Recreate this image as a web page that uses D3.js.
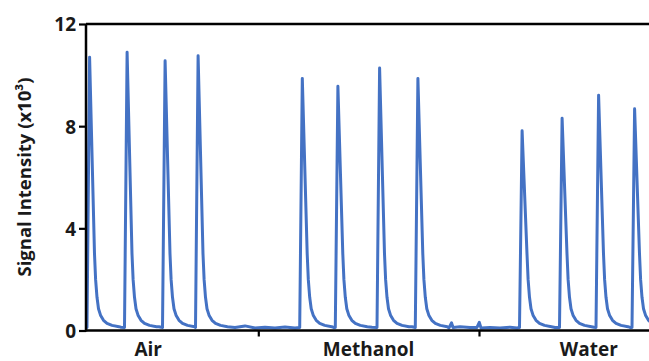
<!DOCTYPE html>
<html>
<head>
<meta charset="utf-8">
<script src="https://cdn.jsdelivr.net/npm/d3@7"></script>
<style>
  html, body { margin: 0; padding: 0; background: #ffffff; }
  svg { display: block; }
  text { font-family: "Open Sans", Lato, sans-serif; font-weight: bold; fill: #1a1a1a; }
</style>
</head>
<body>
<svg id="chart" width="649" height="361"></svg>
<script>
// ---- data ----
const categories = ["Air", "Methanol", "Water"];
const categoryBounds = [0, 220.3, 441, 661];          // time boundaries of each exposure block
const yTicks = [0, 4, 8, 12];
// rising-edge time of each pulse and its peak intensity (x10^3)
const peakStart  = [49, 86.5, 124.5, 157.5, 261.7, 297.3, 339, 377.3, 481.5, 521.5, 558, 594];
const peakHeight = [10.70, 10.89, 10.56, 10.76, 9.87, 9.56, 10.28, 9.87, 7.82, 8.31, 9.21, 8.68];
// decay after each pulse: time since rise and intensity
const tailTime  = [7.5, 8.6, 10, 11.5, 13.5, 16.5, 20, 25, 32];
const tailValue = [3.0, 2.0, 1.3, 0.85, 0.6, 0.4, 0.28, 0.2, 0.15];
const topTime = 2.6;
// baseline between pulses
const baseTime  = [48, 83, 121, 197, 207, 217, 227, 237, 247, 257, 295.5, 334, 374, 411, 413.5, 415, 422, 432, 439, 441.3, 443, 452, 462, 472, 479, 517, 556, 592];
const baseValue = [0.12, 0.13, 0.15, 0.12, 0.18, 0.1, 0.13, 0.1, 0.14, 0.1, 0.12, 0.13, 0.15, 0.1, 0.3, 0.12, 0.15, 0.12, 0.12, 0.32, 0.1, 0.12, 0.1, 0.13, 0.1, 0.12, 0.13, 0.12];

(function () {
// ---- build the trace ----
const pts = [];
peakStart.forEach((s, i) => {
  pts.push([s, 0.12]);
  pts.push([s + topTime, peakHeight[i]]);
  tailTime.forEach((dt, j) => pts.push([s + dt, tailValue[j]]));
});
baseTime.forEach((t, i) => {
  const inside = peakStart.some(s => t >= s && t <= s + tailTime[tailTime.length - 1]);
  if (!inside) pts.push([t, baseValue[i]]);
});
pts.sort((a, b) => a[0] - b[0]);

// ---- layout ----
const svg = d3.select("#chart");
const mLeft = 86, mRight = 649, mTop = 24, mBottom = 330.5;
const x = d3.scaleLinear().domain([0, 661]).range([38, 699]);
const y = d3.scaleLinear().domain([0, 12]).range([mBottom, mTop]);
const band = d3.scaleBand().domain(categories).range([x(categoryBounds[0]), x(categoryBounds[3])]);

svg.append("defs").append("clipPath").attr("id", "clip")
  .append("rect").attr("x", mLeft + 1).attr("y", 0).attr("width", mRight - mLeft).attr("height", mBottom + 2);

// trace
svg.append("path")
  .datum(pts)
  .attr("clip-path", "url(#clip)")
  .attr("fill", "none")
  .attr("stroke", "#4472C4")
  .attr("stroke-width", 3)
  .attr("stroke-linejoin", "round")
  .attr("stroke-linecap", "round")
  .attr("d", d3.line().x(d => x(d[0])).y(d => y(d[1])));

// top frame line
svg.append("line")
  .attr("x1", mLeft).attr("x2", mRight).attr("y1", mTop).attr("y2", mTop)
  .attr("stroke", "#000").attr("stroke-width", 2.5);

// y axis
const yAxis = svg.append("g")
  .attr("transform", `translate(${mLeft},0)`)
  .call(d3.axisLeft(y).tickValues(yTicks).tickSize(7).tickPadding(3).tickFormat(d3.format("d")));
yAxis.select(".domain").attr("stroke", "#000").attr("stroke-width", 2.5).attr("d", `M0,${mTop}V${mBottom + 1}`);
yAxis.selectAll(".tick line").attr("stroke", "#000").attr("stroke-width", 2.2);
yAxis.selectAll(".tick text").attr("dy", "0.36em").style("font-size", "19px").style("font-family", "'Open Sans'").style("font-weight", "bold").attr("fill", "#1a1a1a");

// x axis (ticks at block boundaries)
const xAxis = svg.append("g")
  .attr("transform", `translate(0,${mBottom})`)
  .call(d3.axisBottom(x).tickValues(categoryBounds.slice(1, 3)).tickSize(6).tickFormat(""));
xAxis.select(".domain").attr("stroke", "#000").attr("stroke-width", 2.5).attr("d", `M${mLeft - 1},0H${mRight}`);
xAxis.selectAll(".tick line").attr("stroke", "#000").attr("stroke-width", 2.2);

// category labels
svg.append("g").selectAll("text")
  .data(categories)
  .join("text")
  .attr("x", d => band(d) + band.bandwidth() / 2)
  .attr("y", 356)
  .attr("text-anchor", "middle")
  .style("font-size", "19px")
  .text(d => d);

// y title
svg.append("text")
  .attr("transform", `translate(31,177) rotate(-90)`)
  .attr("text-anchor", "middle")
  .style("font-size", "18.5px")
  .text("Signal Intensity (x10³)");
})();
</script>
</body>
</html>
